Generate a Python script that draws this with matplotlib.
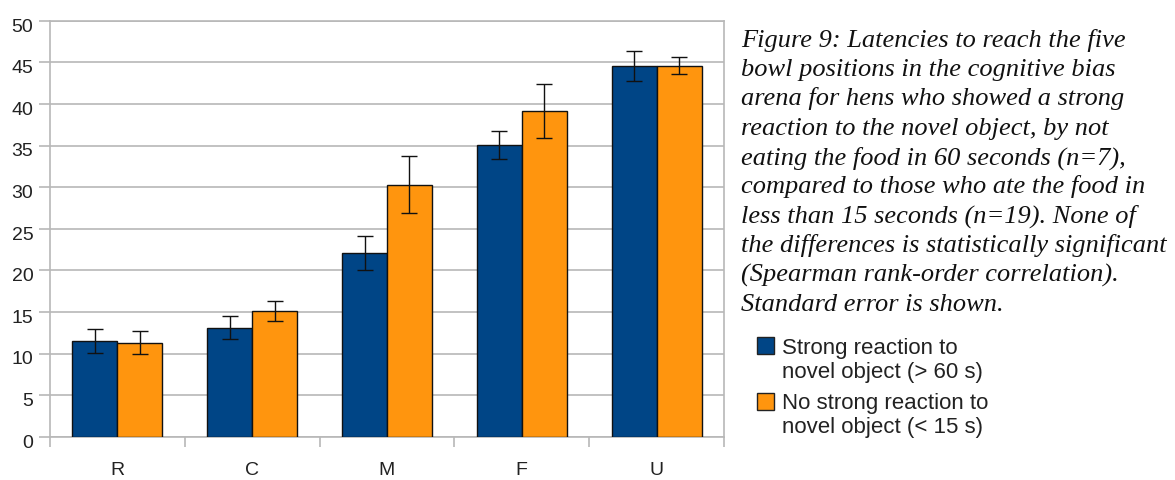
import matplotlib.pyplot as plt
import matplotlib.patches as mpatches
import matplotlib.transforms as mtransforms
import numpy as np

# bowl positions and mean latency (s) with standard error
positions = ["R", "C", "M", "F", "U"]
strong_mean = [11.5, 13.1, 22.1, 35.1, 44.6]
strong_se = [1.45, 1.35, 2.05, 1.7, 1.8]
weak_mean = [11.3, 15.1, 30.3, 39.1, 44.6]
weak_se = [1.35, 1.25, 3.4, 3.25, 1.0]

strong_label = ["Strong reaction to", "novel object (> 60 s)"]
weak_label = ["No strong reaction to", "novel object (< 15 s)"]

caption = ["Figure 9: Latencies to reach the five",
           "bowl positions in the cognitive bias",
           "arena for hens who showed a strong",
           "reaction to the novel object, by not",
           "eating the food in 60 seconds (n=7),",
           "compared to those who ate the food in",
           "less than 15 seconds (n=19). None of",
           "the differences is statistically significant",
           "(Spearman rank-order correlation).",
           "Standard error is shown."]

BLUE = "#004586"
ORANGE = "#ff950e"
GRID = "#b8b8b8"
W, H = 1175, 480

plt.rcParams['font.family'] = ['Liberation Sans', 'DejaVu Sans']

fig = plt.figure(figsize=(W / 100, H / 100), dpi=100)
ax = fig.add_axes([50 / W, 43.3 / H, 674 / W, 416 / H])

x = np.arange(len(positions))
w = 1 / 3
err_kw = dict(ecolor="#111111", elinewidth=1.0, capsize=6, capthick=1.0)
ax.bar(x - w / 2, strong_mean, w, color=BLUE, edgecolor="#111111", linewidth=1.0,
       yerr=strong_se, error_kw=err_kw, zorder=3)
ax.bar(x + w / 2, weak_mean, w, color=ORANGE, edgecolor="#111111", linewidth=1.0,
       yerr=weak_se, error_kw=err_kw, zorder=3)

ax.set_xlim(-0.5, len(positions) - 0.5)
ax.set_ylim(0, 50)
ax.set_yticks(np.arange(0, 51, 5))
ax.set_xticks(x)
ax.set_xticklabels(positions)
ax.set_xticks(np.arange(-0.5, len(positions), 1), minor=True)

ax.yaxis.grid(True, color=GRID, linewidth=1.2, zorder=0)
ax.set_axisbelow(True)
for s in ax.spines.values():
    s.set_color(GRID)
    s.set_linewidth(1.2)

ax.tick_params(axis="y", length=8, width=1.2, color=GRID, labelsize=14,
               labelcolor="#222222", pad=4)
ax.tick_params(axis="x", which="major", length=0, labelsize=14,
               labelcolor="#222222", pad=18)
ax.tick_params(axis="x", which="minor", length=7, width=1.2, color=GRID)

# y labels sit a little below their gridlines
shift = mtransforms.ScaledTranslation(0, -4.5 / 100, fig.dpi_scale_trans)
for lbl in ax.get_yticklabels():
    lbl.set_transform(lbl.get_transform() + shift)

# caption, one line at a time
for i, line in enumerate(caption):
    fig.text(741 / W, 1 - (46.7 + i * 29.35) / H, line, ha="left", va="baseline",
             family="Liberation Serif", style="italic", fontsize=19,
             color="#111111")

# legend: swatch sits next to the first line of each entry
entries = [(BLUE, strong_label, 336.7, [354.3, 378.3]),
           (ORANGE, weak_label, 393.3, [409.0, 433.3])]
for color, lines, top, baselines in entries:
    fig.add_artist(mpatches.Rectangle((757 / W, 1 - (top + 17) / H), 17 / W, 17 / H,
                                      transform=fig.transFigure, facecolor=color,
                                      edgecolor="#222222", linewidth=1.0))
    for line, base in zip(lines, baselines):
        fig.text(781.5 / W, 1 - base / H, line, ha="left", va="baseline",
                 fontsize=16, color="#222222")

fig.savefig("out.png", dpi=100)
